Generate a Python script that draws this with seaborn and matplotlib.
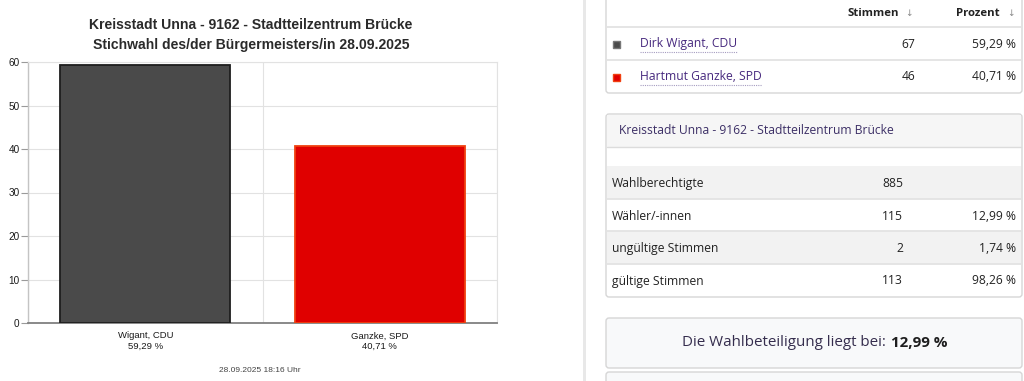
import matplotlib
matplotlib.use("Agg")
import matplotlib.pyplot as plt
from matplotlib.patches import FancyBboxPatch, Rectangle
import seaborn as sns
import pandas as pd

# --- Stichwahl result (Stimmbezirk 9162) ---
candidates = ["Wigant, CDU", "Ganzke, SPD"]
full_names = ["Dirk Wigant, CDU", "Hartmut Ganzke, SPD"]
votes = [67, 46]
shares = [59.29, 40.71]
bar_colors = ["#4a4a4a", "#e00000"]
edge_colors = ["#1e1e1e", "#f04010"]
y_ticks = [0, 10, 20, 30, 40, 50, 60]

title_lines = ["Kreisstadt Unna - 9162 - Stadtteilzentrum Brücke",
               "Stichwahl des/der Bürgermeisters/in 28.09.2025"]
timestamp = "28.09.2025 18:16 Uhr"

# --- turnout summary ---
district = "Kreisstadt Unna - 9162 - Stadtteilzentrum Brücke"
summary_labels = ["Wahlberechtigte", "Wähler/-innen", "ungültige Stimmen", "gültige Stimmen"]
summary_counts = [885, 115, 2, 113]
summary_pct = [None, 12.99, 1.74, 98.26]
turnout = 12.99


def pct(v):
    return f"{v:.2f}".replace(".", ",") + " %"


sns.set_theme(style="white")
plt.rcParams["font.family"] = ["Liberation Sans", "DejaVu Sans"]

W, H = 1024, 381
fig = plt.figure(figsize=(W / 100, H / 100), dpi=100)
fig.patch.set_facecolor("white")

# ---------------- bar chart ----------------
ax = fig.add_axes([28 / W, 1 - 323 / H, (497 - 28) / W, (323 - 62) / H])
df = pd.DataFrame({"Kandidat": candidates, "Anteil": shares})
sns.barplot(data=df, x="Kandidat", y="Anteil", hue="Kandidat", palette=bar_colors,
            saturation=1, width=0.725, legend=False, ax=ax, zorder=3)
for patch, ec in zip(ax.patches, edge_colors):
    patch.set_edgecolor(ec)
    patch.set_linewidth(1.3)

ax.set_xlim(-0.5, 1.5)
ax.set_ylim(0, 60)
ax.set_yticks(y_ticks)
ax.set_xticks([0, 1])
ax.set_xticklabels([f"{c}\n{pct(s)}" for c, s in zip(candidates, shares)],
                   fontsize=6.8, color="#1a1a1a", linespacing=1.2)
ax.set_xticks([-0.5, 0.5, 1.5], minor=True)
ax.tick_params(axis="x", which="major", length=0, pad=6)
ax.tick_params(axis="x", which="minor", length=5, color="#cfcfcf", width=0.8)
ax.tick_params(axis="y", length=5, color="#9a9a9a", width=0.8, pad=1,
               labelsize=7.2, labelcolor="#1a1a1a", left=True)
ax.set_xlabel("")
ax.set_ylabel("")
ax.yaxis.grid(True, color="#e2e2e2", lw=0.8)
ax.xaxis.grid(True, which="minor", color="#e2e2e2", lw=0.8)
ax.xaxis.grid(False, which="major")
ax.set_axisbelow(True)
for side, col, lw in [("left", "#c4c4c4", 1.0), ("bottom", "#808080", 1.3),
                      ("top", "#e2e2e2", 0.8), ("right", "#e2e2e2", 0.8)]:
    ax.spines[side].set_color(col)
    ax.spines[side].set_linewidth(lw)
    ax.spines[side].set_visible(True)

fig.text(251 / W, 1 - 25 / H, title_lines[0], ha="center", va="center",
         fontsize=10.1, weight="bold", color="#2a2a2a")
fig.text(251 / W, 1 - 45 / H, title_lines[1], ha="center", va="center",
         fontsize=10.1, weight="bold", color="#2a2a2a")
fig.text(260 / W, 1 - 371 / H, timestamp, ha="center", va="center",
         fontsize=6.0, color="#444444")

# ---------------- side panels (pixel coordinates) ----------------
ov = fig.add_axes([0, 0, 1, 1])
ov.set_xlim(0, W)
ov.set_ylim(H, 0)
ov.axis("off")
ov.patch.set_alpha(0)

UI = ["Open Sans", "DejaVu Sans"]
TXT = "#222222"
LINK = "#47297e"
BORDER = "#d6d6d6"
ROWLINE = "#e3e3e3"

# column divider
ov.add_patch(Rectangle((583, 0), 3, H, color="#e8e8e8", lw=0))


def panel(x0, y0, x1, y1, fc="white"):
    ov.add_patch(FancyBboxPatch((x0, y0), x1 - x0, y1 - y0,
                                boxstyle="round,pad=0,rounding_size=3",
                                fc=fc, ec=BORDER, lw=1.0))


# candidates table
px0, px1 = 606, 1022
panel(px0, -6, px1, 93)
ov.text(899, 13, "Stimmen", family=UI, fontsize=8.2, weight="bold", color=TXT,
        ha="right", va="center")
ov.text(909, 14, "↓", family=["DejaVu Sans"], fontsize=6.5, color="#888888",
        ha="center", va="center")
ov.text(1000, 13, "Prozent", family=UI, fontsize=8.2, weight="bold", color=TXT,
        ha="right", va="center")
ov.text(1011, 14, "↓", family=["DejaVu Sans"], fontsize=6.5, color="#888888",
        ha="center", va="center")
for yl in (27, 60):
    ov.plot([px0 + 1, px1 - 1], [yl, yl], color=ROWLINE, lw=1.3)

row_y = [44, 77]
name_texts = []
for y, name, v, s, fc, ec in zip(row_y, full_names, votes, shares, bar_colors, edge_colors):
    ov.add_patch(Rectangle((613, y - 3.5), 7, 7, fc=fc, ec=ec if fc != bar_colors[0] else "#777777", lw=1.0))
    name_texts.append(ov.text(640, y, name, family=UI, fontsize=8.7, color=LINK,
                              ha="left", va="center"))
    ov.text(915, y, f"{v}", family=UI, fontsize=8.7, color=TXT, ha="right", va="center")
    ov.text(1016, y, pct(s), family=UI, fontsize=8.7, color=TXT, ha="right", va="center")

# summary table
panel(px0, 114, px1, 297)
ov.add_patch(Rectangle((px0 + 1, 115), px1 - px0 - 2, 32, fc="#f6f6f6", lw=0))
ov.plot([px0 + 1, px1 - 1], [147, 147], color="#dcdcdc", lw=1.0)
ov.text(619, 131, district, family=UI, fontsize=8.7, color="#3c2f66",
        ha="left", va="center")

row_top = [166, 199, 231, 264]
row_bot = [199, 231, 264, 296]
for i, (lab, cnt, p) in enumerate(zip(summary_labels, summary_counts, summary_pct)):
    t, b = row_top[i], row_bot[i]
    if i % 2 == 0:
        ov.add_patch(Rectangle((px0 + 1, t), px1 - px0 - 2, b - t, fc="#f2f2f2", lw=0))
    if i > 0:
        ov.plot([px0 + 1, px1 - 1], [t, t], color=ROWLINE, lw=1.3)
    yc = (t + b) / 2 + 1
    ov.text(612, yc, lab, family=UI, fontsize=8.7, color=TXT, ha="left", va="center")
    ov.text(903, yc, f"{cnt}", family=UI, fontsize=8.7, color=TXT, ha="right", va="center")
    if p is not None:
        ov.text(1016, yc, pct(p), family=UI, fontsize=8.7, color=TXT, ha="right", va="center")

# turnout box
panel(px0, 318, px1, 368, fc="#f8f9fa")
panel(px0, 372, px1, H + 10, fc="#f8f9fa")

fig.canvas.draw()
renderer = fig.canvas.get_renderer()
inv = ov.transData.inverted()

lead = ov.text(0, 343, "Die Wahlbeteiligung liegt bei:", family=UI, fontsize=10.9,
               color="#352d4d", ha="left", va="center")
bold = ov.text(0, 343, pct(turnout), family=UI, fontsize=10.9, weight="bold",
               color="#1e1e1e", ha="left", va="center")
wl = lead.get_window_extent(renderer).width
wb = bold.get_window_extent(renderer).width
gap = 5.0
x_start = 814.5 - (wl + gap + wb) / 2
lead.set_x(x_start)
bold.set_x(x_start + wl + gap)

# dotted underline under candidate names
for t, y in zip(name_texts, row_y):
    bb = t.get_window_extent(renderer)
    (xa, _), (xb, _) = inv.transform([(bb.x0, bb.y0), (bb.x1, bb.y0)])
    ov.plot([xa, xb], [y + 7.5, y + 7.5], color="#a59cc0", lw=0.8, ls=(0, (1, 1)))

fig.savefig("out.png", dpi=100, facecolor="white")
